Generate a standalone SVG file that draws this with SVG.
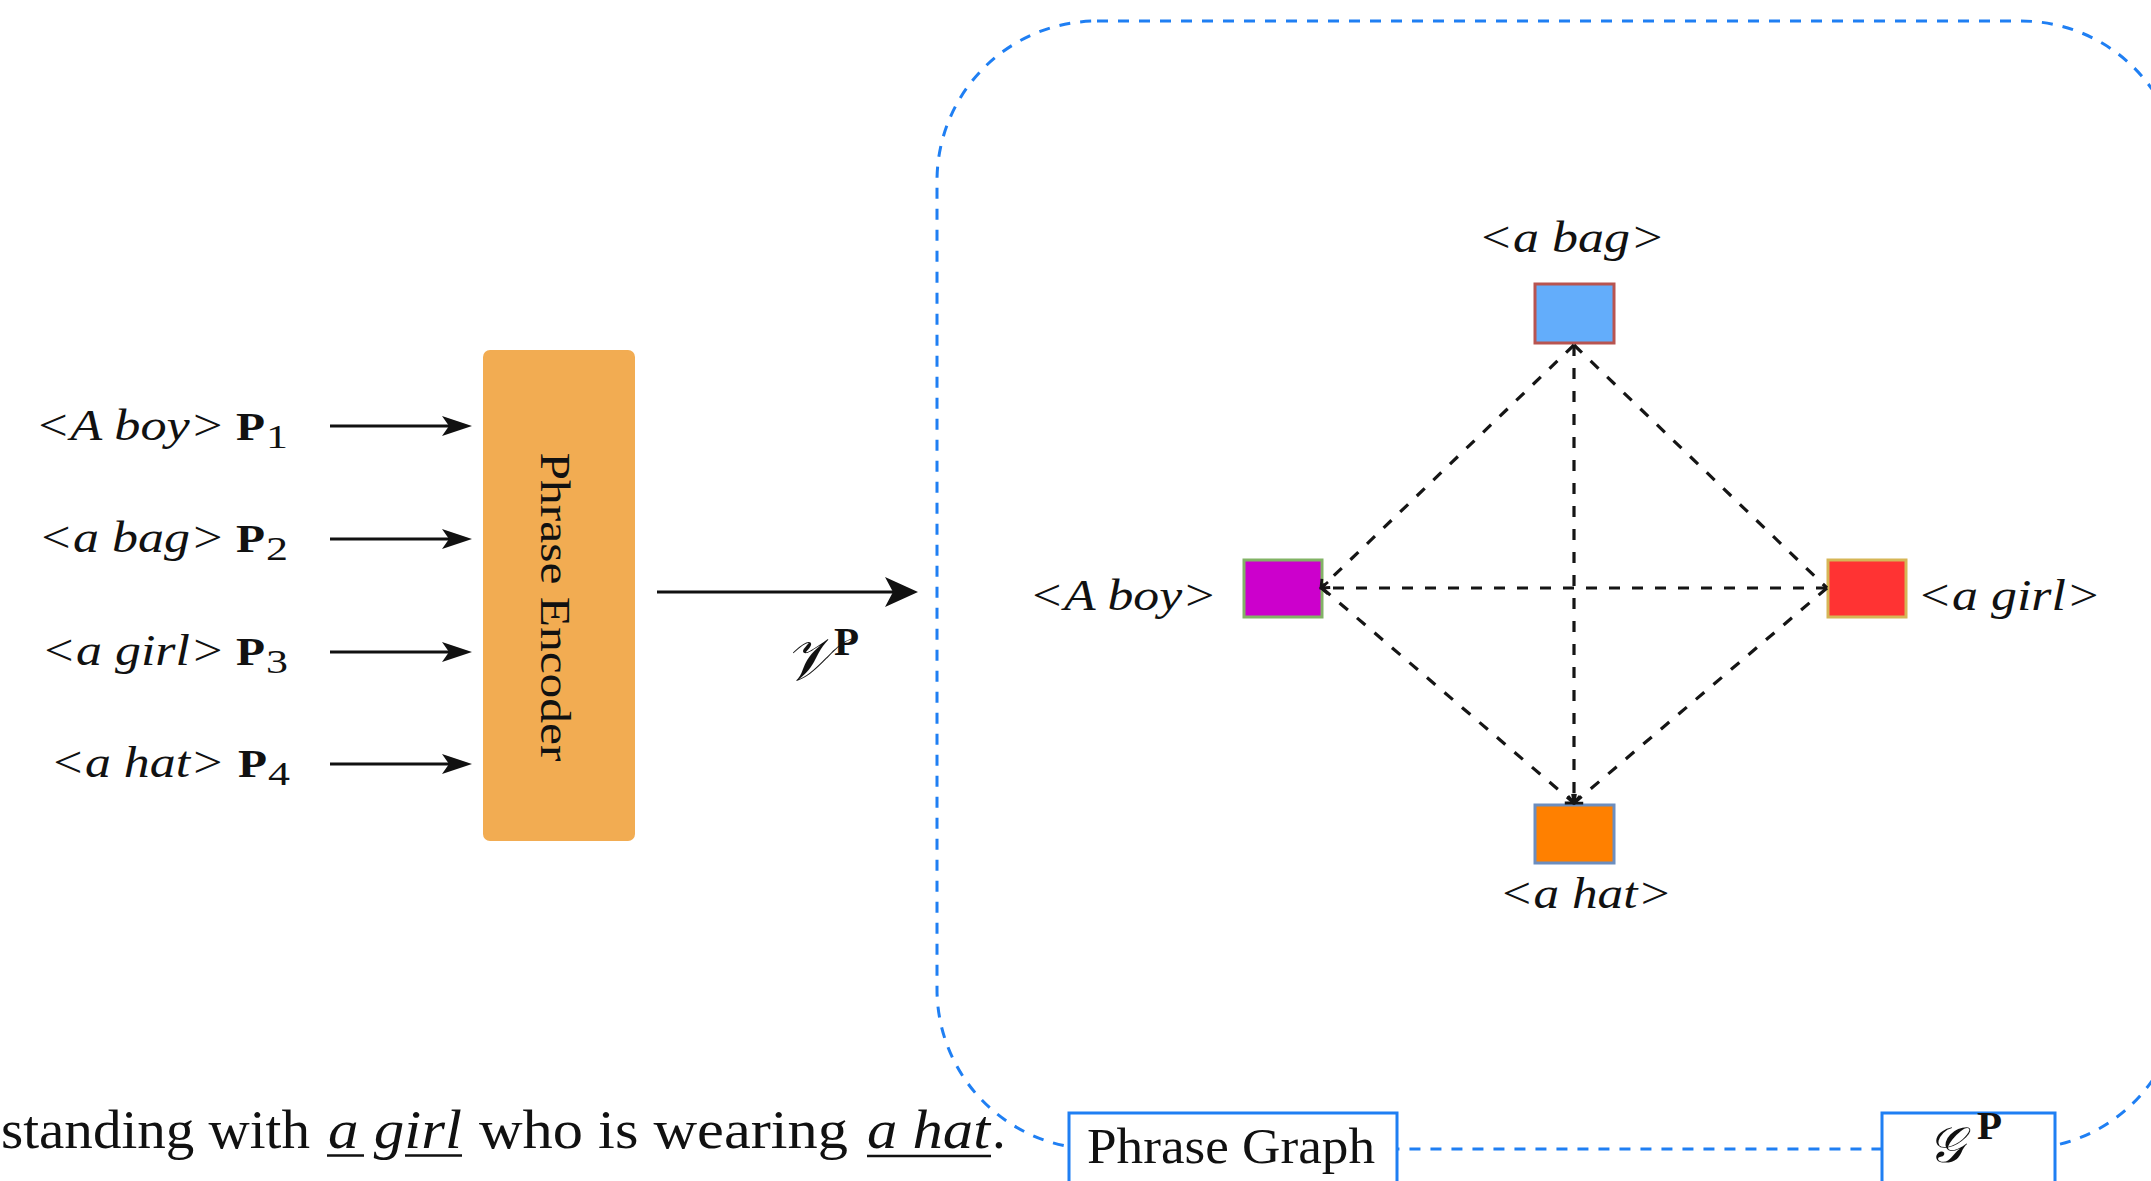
<svg xmlns="http://www.w3.org/2000/svg" width="2151" height="1181" viewBox="0 0 2151 1181">
  <style>
    .lbl { font-family: "Liberation Serif", "Times New Roman", serif; font-style: italic; font-size: 44px; fill: #111; }
    .pb { font-family: "Liberation Serif", "Times New Roman", serif; font-weight: bold; font-size: 41px; fill: #111; }
    .sub { font-family: "Liberation Serif", "Times New Roman", serif; font-size: 34px; fill: #111; }
    .math { font-family: "DejaVu Serif", "DejaVu Sans", "Liberation Serif", serif; fill: #111; }
    .serif { font-family: "Liberation Serif", "Times New Roman", serif; fill: #111; }
    .arrow { stroke: #111; stroke-width: 3.2; fill: none; }
    .edge { stroke: #151515; stroke-width: 3.2; fill: none; stroke-dasharray: 11 12; }
    .blue { stroke: #1f7ff3; stroke-width: 3; }
    .gnode { stroke-width: 3; }
  </style>
  <defs>
    <marker id="headS" markerUnits="userSpaceOnUse" markerWidth="31" markerHeight="22" refX="20" refY="11" orient="auto">
      <path d="M0,1 L30,11 L0,21 L7,11 Z" fill="#111"/>
    </marker>
    <marker id="headL" markerUnits="userSpaceOnUse" markerWidth="34" markerHeight="32" refX="23" refY="16" orient="auto">
      <path d="M0,1 L33,16 L0,31 L8,16 Z" fill="#111"/>
    </marker>
    <marker id="open" markerUnits="userSpaceOnUse" markerWidth="12" markerHeight="16" refX="9" refY="8" orient="auto">
      <path d="M2,2 L9,8 L2,14" fill="none" stroke="#151515" stroke-width="2.8"/>
    </marker>
  </defs>

  <rect width="2151" height="1181" fill="#ffffff"/>

  <!-- graph region outline -->
  <g id="graph-region">
    <rect x="937" y="21" width="1244" height="1128" rx="160" ry="160" fill="none" class="blue" stroke-dasharray="11 10"/>
  </g>

  <!-- phrase inputs -->
  <g id="phrase-1">
    <text class="lbl" x="35" y="440" textLength="190" lengthAdjust="spacingAndGlyphs">&lt;A boy&gt;</text>
    <text class="pb" x="236" y="440" textLength="29" lengthAdjust="spacingAndGlyphs">P</text>
    <text class="sub" x="266" y="448" textLength="22" lengthAdjust="spacingAndGlyphs">1</text>
  </g>
  <g id="phrase-2">
    <text class="lbl" x="38" y="552" textLength="187" lengthAdjust="spacingAndGlyphs">&lt;a bag&gt;</text>
    <text class="pb" x="236" y="552" textLength="29" lengthAdjust="spacingAndGlyphs">P</text>
    <text class="sub" x="266" y="560" textLength="22" lengthAdjust="spacingAndGlyphs">2</text>
  </g>
  <g id="phrase-3">
    <text class="lbl" x="41" y="665" textLength="184" lengthAdjust="spacingAndGlyphs">&lt;a girl&gt;</text>
    <text class="pb" x="236" y="665" textLength="29" lengthAdjust="spacingAndGlyphs">P</text>
    <text class="sub" x="266" y="673" textLength="22" lengthAdjust="spacingAndGlyphs">3</text>
  </g>
  <g id="phrase-4">
    <text class="lbl" x="50" y="777" textLength="175" lengthAdjust="spacingAndGlyphs">&lt;a hat&gt;</text>
    <text class="pb" x="238" y="777" textLength="29" lengthAdjust="spacingAndGlyphs">P</text>
    <text class="sub" x="268" y="785" textLength="22" lengthAdjust="spacingAndGlyphs">4</text>
  </g>

  <!-- encoder block -->
  <g id="phrase-encoder">
    <rect x="483" y="350" width="152" height="491" rx="7" ry="7" fill="#f2ac52"/>
    <text class="serif" font-size="42" text-anchor="middle" transform="translate(541,607) rotate(90)" textLength="309" lengthAdjust="spacingAndGlyphs">Phrase Encoder</text>
  </g>

  <!-- encoder output label -->
  <g id="vp-label">
    <text class="math" x="784" y="680" font-size="60" font-style="italic">𝒱</text>
    <text class="pb" x="834" y="655" font-size="34">P</text>
  </g>

  <!-- graph nodes -->
  <g id="node-bag">
    <rect class="gnode" x="1535" y="284" width="79" height="59" fill="#63adfb" stroke="#b85450"/>
    <text class="lbl" x="1478" y="252" textLength="187" lengthAdjust="spacingAndGlyphs">&lt;a bag&gt;</text>
  </g>
  <g id="node-boy">
    <rect class="gnode" x="1244" y="560" width="78" height="57" fill="#cc00cc" stroke="#82b366"/>
    <text class="lbl" x="1029" y="610" textLength="188" lengthAdjust="spacingAndGlyphs">&lt;A boy&gt;</text>
  </g>
  <g id="node-girl">
    <rect class="gnode" x="1828" y="560" width="78" height="57" fill="#ff3333" stroke="#d6b656"/>
    <text class="lbl" x="1917" y="610" textLength="184" lengthAdjust="spacingAndGlyphs">&lt;a girl&gt;</text>
  </g>
  <g id="node-hat">
    <rect class="gnode" x="1535" y="805" width="79" height="58" fill="#ff8000" stroke="#6c8ebf"/>
    <text class="lbl" x="1499" y="908" textLength="173" lengthAdjust="spacingAndGlyphs">&lt;a hat&gt;</text>
  </g>

  <!-- caption boxes on the region outline -->
  <g id="phrase-graph-box">
    <rect x="1069" y="1113" width="328" height="100" fill="#ffffff" class="blue"/>
    <text class="serif" x="1087" y="1163" font-size="50" textLength="288" lengthAdjust="spacingAndGlyphs">Phrase Graph</text>
  </g>
  <g id="gp-box">
    <rect x="1882" y="1113" width="173" height="100" fill="#ffffff" class="blue"/>
    <text class="math" x="1928" y="1162" font-size="50" font-style="italic">𝒢</text>
    <text class="pb" x="1977" y="1139" font-size="34">P</text>
  </g>

  <!-- sentence fragment -->
  <g id="sentence">
    <text class="serif" x="1" y="1148" font-size="55" textLength="309" lengthAdjust="spacingAndGlyphs">standing with</text>
    <text class="serif" x="328" y="1148" font-size="55" font-style="italic" textLength="134" lengthAdjust="spacingAndGlyphs">a girl</text>
    <text class="serif" x="479" y="1148" font-size="55" textLength="369" lengthAdjust="spacingAndGlyphs">who is wearing</text>
    <text class="serif" x="867" y="1148" font-size="55" font-style="italic" textLength="123" lengthAdjust="spacingAndGlyphs">a hat</text>
    <text class="serif" x="992" y="1148" font-size="55">.</text>
    <path d="M327,1155.5 H364 M405,1155.5 H462 M867,1156 H991" stroke="#111" stroke-width="2.6" fill="none"/>
  </g>

  <!-- connectors -->
  <g id="connectors">
    <line class="arrow" x1="330" y1="426" x2="462" y2="426" marker-end="url(#headS)"/>
    <line class="arrow" x1="330" y1="539" x2="462" y2="539" marker-end="url(#headS)"/>
    <line class="arrow" x1="330" y1="652" x2="462" y2="652" marker-end="url(#headS)"/>
    <line class="arrow" x1="330" y1="764" x2="462" y2="764" marker-end="url(#headS)"/>
    <line class="arrow" x1="657" y1="592" x2="908" y2="592" marker-end="url(#headL)"/>

    <line class="edge" x1="1574" y1="345" x2="1321" y2="588" marker-end="url(#open)"/>
    <line class="edge" x1="1574" y1="345" x2="1574" y2="803" marker-end="url(#open)"/>
    <line class="edge" x1="1574" y1="345" x2="1827" y2="588"/>
    <line class="edge" x1="1827" y1="588" x2="1321" y2="588" marker-end="url(#open)"/>
    <line class="edge" x1="1322" y1="588" x2="1574" y2="803" marker-end="url(#open)"/>
    <line class="edge" x1="1827" y1="588" x2="1574" y2="803" marker-end="url(#open)"/>
  </g>
</svg>
